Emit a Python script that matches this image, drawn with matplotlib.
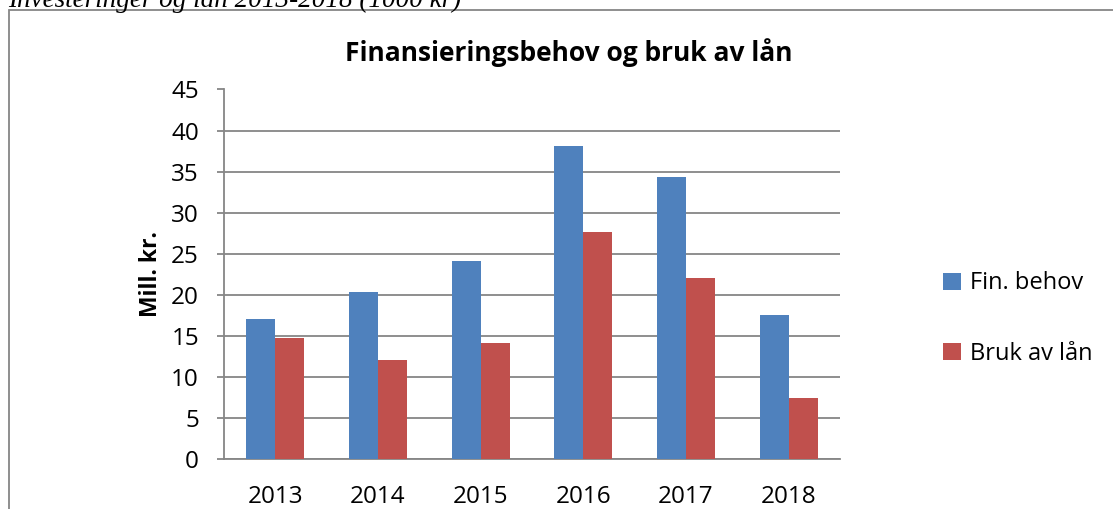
import numpy as np
import matplotlib
matplotlib.use("Agg")
import matplotlib.pyplot as plt
from matplotlib.patches import Rectangle

plt.rcParams['font.family'] = ['Open Sans', 'DejaVu Sans']

years = ['2013', '2014', '2015', '2016', '2017', '2018']
fin_behov = [17.0, 20.3, 24.1, 38.1, 34.3, 17.5]
bruk_av_laan = [14.7, 12.1, 14.1, 27.7, 22.1, 7.4]
yticks = [0, 5, 10, 15, 20, 25, 30, 35, 40, 45]

blue = '#4F81BD'
red = '#C0504D'
grid_c = '#868686'

W, H = 1113, 509
fig = plt.figure(figsize=(W / 100, H / 100), dpi=100)

# ramme rundt diagrammet (kuttet nederst og til høyre)
fig.patches.append(Rectangle((9 / W, -0.05), 1.2, 1 - 10 / H + 0.05, transform=fig.transFigure,
                             fill=False, edgecolor=grid_c, linewidth=1.3))

# overskrift som er kuttet i toppen (slik som i originalen)
fig.text(8 / W, 1 - 7 / H, 'Investeringer og lån 2013-2018 (1000 kr)', family='Liberation Serif',
         style='italic', fontsize=19.5, va='baseline', ha='left')

ax = fig.add_axes([224 / W, 50 / H, 616 / W, 369.5 / H])
x = np.arange(len(years))
w = 0.283
ax.bar(x - w / 2, fin_behov, w, color=blue, label='Fin. behov', zorder=3)
ax.bar(x + w / 2, bruk_av_laan, w, color=red, label='Bruk av lån', zorder=3)

ax.set_xlim(-0.5, len(years) - 0.5)
ax.set_ylim(0, 45)
ax.set_yticks(yticks)
ax.set_xticks(x)
ax.set_xticklabels(years)
ax.grid(axis='y', color=grid_c, linewidth=1.3, zorder=0)
for s in ['top', 'right']:
    ax.spines[s].set_visible(False)
for s in ['left', 'bottom']:
    ax.spines[s].set_color(grid_c)
    ax.spines[s].set_linewidth(1.3)
ax.tick_params(axis='y', length=5, color=grid_c, width=1.3, labelsize=17.5, pad=13)
ax.tick_params(axis='x', length=0, labelsize=17.5, pad=19)

ax.set_ylabel('Mill. kr.', fontsize=16.5, fontweight='bold')
ax.yaxis.set_label_coords(-0.099, 0.5)
fig.text(0.5 * (345 + 793) / W, 1 - 53 / H, 'Finansieringsbehov og bruk av lån',
         fontsize=19, fontweight='bold', ha='center', va='center')

fig.legend(loc='center left', bbox_to_anchor=(943 / W, 1 - 318.5 / H), frameon=False,
           borderpad=0, borderaxespad=0, fontsize=17, handlelength=0.75, handleheight=0.75,
           handletextpad=0.4, labelspacing=1.95)

fig.savefig('out.png', dpi=100)
